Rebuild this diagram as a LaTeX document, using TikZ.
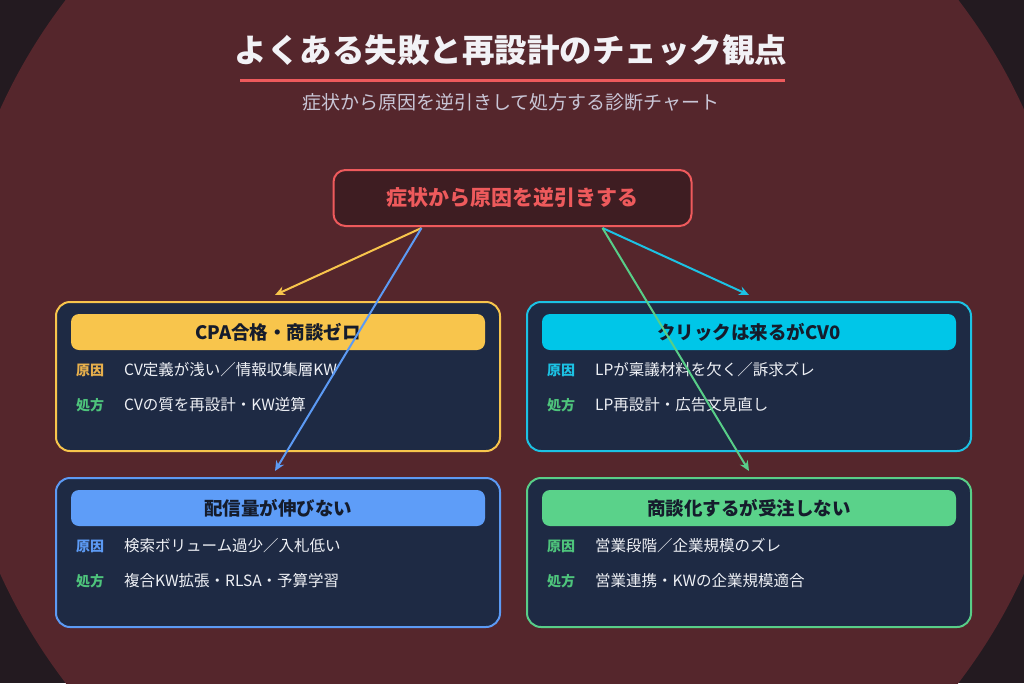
\documentclass[tikz,border=0pt]{standalone}
\usepackage{fontspec}
\setmainfont{Noto Sans CJK JP}
\usetikzlibrary{arrows.meta,calc}
\definecolor{outerbg}{HTML}{231A20}
\definecolor{innerbg}{HTML}{55262C}
\definecolor{titlec}{HTML}{F2F2F6}
\definecolor{subc}{HTML}{C9C6D6}
\definecolor{redc}{HTML}{EE5A5C}
\definecolor{hubfill}{HTML}{3E1D22}
\definecolor{cardfill}{HTML}{1E2A44}
\definecolor{yelc}{HTML}{F8C54C}
\definecolor{yellab}{HTML}{E8B04C}
\definecolor{cyanc}{HTML}{1CC2E4}
\definecolor{cyanh}{HTML}{00C6E8}
\definecolor{bluec}{HTML}{5C9AF4}
\definecolor{blueh}{HTML}{5E9DF8}
\definecolor{greenc}{HTML}{58CE88}
\definecolor{greenh}{HTML}{5AD28A}
\definecolor{greenlab}{HTML}{4EC47C}
\definecolor{darktext}{HTML}{151C2C}
\definecolor{rowtext}{HTML}{EEF0F5}
\tikzset{
  cardbox/.style={draw=#1, line width=2pt, fill=cardfill, rounded corners=14pt,
    minimum width=444pt, minimum height=149pt, inner sep=0pt, anchor=north west},
  headbox/.style={fill=#1, rounded corners=8pt, minimum width=414pt, minimum height=36pt,
    inner sep=0pt, text=darktext, font=\fontsize{18.5}{22}\selectfont\bfseries},
  rowlab/.style={text=#1, anchor=west, inner sep=0pt, font=\fontsize{14}{16}\selectfont\bfseries},
  rowtxt/.style={text=rowtext, anchor=west, inner sep=0pt, font=\fontsize{15.5}{18}\selectfont},
  link/.style={draw=#1, line width=2pt, -{Stealth[length=10pt,width=9pt]}}
}
\newcommand\mkcard[9]{%
  \node[cardbox=#4] (#1) at (#2,#3) {};
  \node[headbox=#5] (#1h) at ($(#1.north)+(0,31)$) {#7};
  \node[rowlab=#6] (#1la) at ($(#1.north west)+(21,69)$) {原因};
  \node[rowtxt] (#1ta) at ($(#1.north west)+(69,69)$) {#8};
  \node[rowlab=greenlab] (#1lb) at ($(#1.north west)+(21,104)$) {処方};
  \node[rowtxt] (#1tb) at ($(#1.north west)+(69,104)$) {#9};
}
\begin{document}
\begin{tikzpicture}[x=1pt,y=-1pt]
\useasboundingbox (0,0) rectangle (1024,683);
\begin{scope}
\clip (0,0) rectangle (1024,683);
\fill[outerbg] (0,0) rectangle (1024,683);
\fill[innerbg] (512,341.5) circle (562);
\end{scope}
\node[text=titlec, font=\fontsize{32.5}{38}\selectfont\bfseries, inner sep=0pt] (title) at (511,50) {よくある失敗と再設計のチェック観点};
\draw[redc, line width=3pt] (240,80) -- (785,80);
\node[text=subc, font=\fontsize{19}{23}\selectfont, inner sep=0pt] (sub) at (511,102) {症状から原因を逆引きして処方する診断チャート};
\node[draw=redc, line width=2pt, fill=hubfill, rounded corners=12pt, minimum width=358pt, minimum height=56pt,
  text=redc, font=\fontsize{21}{25}\selectfont\bfseries, inner sep=0pt] (hub) at (512.5,198) {症状から原因を逆引きする};
\mkcard{tl}{55}{301}{yelc}{yelc}{yellab}{CPA合格・商談ゼロ}{CV定義が浅い／情報収集層KW}{CVの質を再設計・KW逆算}
\mkcard{tr}{526}{301}{cyanc}{cyanh}{cyanc}{クリックは来るがCV0}{LPが稟議材料を欠く／訴求ズレ}{LP再設計・広告文見直し}
\mkcard{bl}{55}{477}{bluec}{blueh}{bluec}{配信量が伸びない}{検索ボリューム過少／入札低い}{複合KW拡張・RLSA・予算学習}
\mkcard{br}{526}{477}{greenc}{greenh}{greenlab}{商談化するが受注しない}{営業段階／企業規模のズレ}{営業連携・KWの企業規模適合}
\coordinate (sL) at ($(hub.south)+(-91,1)$);
\coordinate (sR) at ($(hub.south)+(90,1)$);
\coordinate (eTL) at (275,295);
\coordinate (eTR) at (749,295);
\coordinate (eBL) at (275,471);
\coordinate (eBR) at (749,471);
\draw[link=yelc] (sL) -- (eTL);
\draw[link=cyanc] (sR) -- (eTR);
\draw[link=bluec] (sL) -- (eBL);
\draw[link=greenc] (sR) -- (eBR);
\end{tikzpicture}
\end{document}
